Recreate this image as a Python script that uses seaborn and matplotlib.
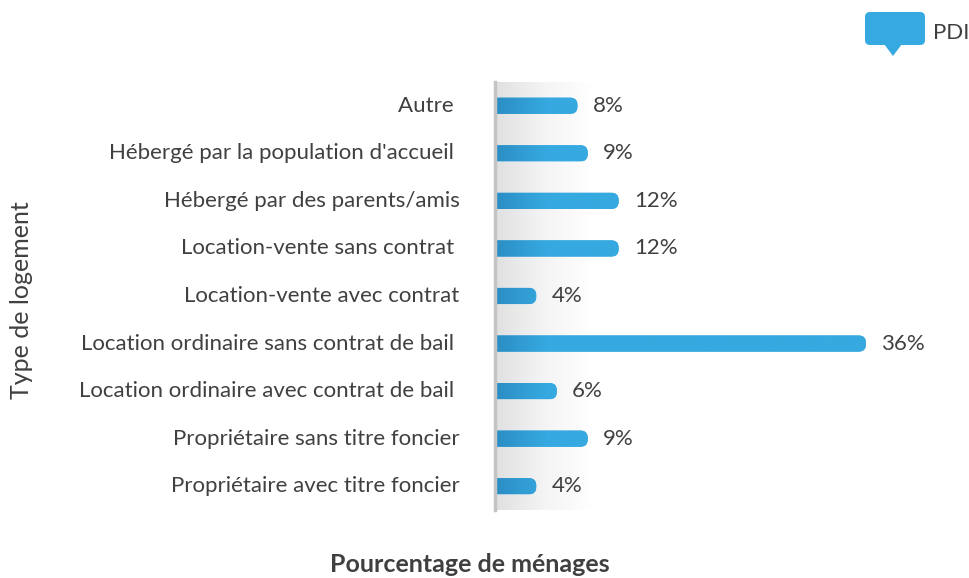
import numpy as np
import pandas as pd
import seaborn as sns
import matplotlib
matplotlib.use("Agg")
import matplotlib.pyplot as plt
from matplotlib.patches import FancyBboxPatch, Polygon
from matplotlib.colors import LinearSegmentedColormap
from matplotlib.transforms import ScaledTranslation

# ---- data ----
categories = [
    "Autre ",
    "Hébergé par la population d'accueil ",
    "Hébergé par des parents/amis",
    "Location-vente sans contrat ",
    "Location-vente avec contrat",
    "Location ordinaire sans contrat de bail ",
    "Location ordinaire avec contrat de bail ",
    "Propriétaire sans titre foncier",
    "Propriétaire avec titre foncier",
]
values = [8, 9, 12, 12, 4, 36, 6, 9, 4]
value_labels = ["8%", "9%", "12%", "12%", "4%", "36%", "6%", "9%", "4%"]
series_name = "PDI"
x_label = "Pourcentage de ménages"
y_label = "Type de logement"

# ---- style ----
BAR = "#36A9E0"
BAR_DARK = "#2B8DC4"
TXT = "#404040"

sns.set_theme(style="white")
plt.rcParams['font.family'] = ['Lato', 'DejaVu Sans']

W, H = 970, 578
fig = plt.figure(figsize=(W / 100, H / 100), dpi=100)
ax_l, ax_r, ax_t, ax_b = 495, 969, 82, 510
ax = fig.add_axes([ax_l / W, 1 - ax_b / H, (ax_r - ax_l) / W, (ax_b - ax_t) / H])

df = pd.DataFrame({"cat": categories, "val": values})
sns.barplot(data=df, x="val", y="cat", color=BAR, saturation=1, width=0.34,
            ax=ax, zorder=3)

XMAX = 46
ax.set_xlim(0, XMAX)
ax.set_ylim(len(categories) - 0.5, -0.5)

px_x = (ax_r - ax_l) / XMAX
px_y = (ax_b - ax_t) / len(categories)
aspect = px_x / px_y

# background shadow gradient near the axis
bg = LinearSegmentedColormap.from_list("bg", ["#E0E0E0", "#F4F4F4", "#FFFFFF"])
grad = np.linspace(0, 1, 256).reshape(1, -1)
ax.imshow(grad, cmap=bg, extent=[0, 9.5, len(categories) - 0.5, -0.5],
          aspect="auto", zorder=0, interpolation="bicubic")

# rounded bars with left-side gradient
barcm = LinearSegmentedColormap.from_list("bar", [BAR_DARK, BAR])
for p in list(ax.patches):
    x0, y0, w, h = p.get_x(), p.get_y(), p.get_width(), p.get_height()
    p.remove()
    rs = 0.45 * abs(h) * px_y / px_x
    fb = FancyBboxPatch((x0 - 3, y0), w + 3, h,
                        boxstyle=f"round,pad=0,rounding_size={rs}",
                        mutation_aspect=aspect, facecolor=BAR,
                        edgecolor="none", zorder=3)
    ax.add_patch(fb)
    gx = np.clip(np.linspace(0, w, 400) / 5.0, 0, 1).reshape(1, -1)
    im = ax.imshow(gx, cmap=barcm, vmin=0, vmax=1,
                   extent=[0, w, y0 + h, y0], aspect="auto", zorder=4)
    im.set_clip_path(fb)

ax.set_xlim(0, XMAX)
ax.set_ylim(len(categories) - 0.5, -0.5)

for i, (v, lbl) in enumerate(zip(values, value_labels)):
    ax.annotate(lbl, xy=(v, i), xytext=(11, 0), textcoords="offset points",
                va="center", ha="left", fontsize=16, color=TXT)

# axes styling
for s in ["top", "right", "bottom"]:
    ax.spines[s].set_visible(False)
ax.spines["left"].set_color("#C4C4C4")
ax.spines["left"].set_linewidth(2.5)
ax.spines["left"].set_zorder(5)
ax.set_xticks([])
ax.tick_params(axis="y", length=0, pad=25.5, labelsize=16, labelcolor=TXT)
shift = ScaledTranslation(0, 2 / 100, fig.dpi_scale_trans)
for t in ax.get_yticklabels():
    t.set_transform(t.get_transform() + shift)

ax.set_ylabel(y_label, fontsize=18, color=TXT)
ax.yaxis.set_label_coords((33 - ax_l) / (ax_r - ax_l), (ax_b - 300) / (ax_b - ax_t))
ax.set_xlabel(x_label, fontsize=18, color=TXT, fontweight="bold")
ax.xaxis.set_label_coords((470 - ax_l) / (ax_r - ax_l), -(553 - ax_b) / (ax_b - ax_t))

# legend: speech bubble + series name
tr = fig.dpi_scale_trans
def P(x, y):
    return (x / 100, (H - y) / 100)
bubble = FancyBboxPatch(P(865, 45), 0.60, 0.33, transform=tr,
                        boxstyle="round,pad=0,rounding_size=0.05",
                        facecolor=BAR, edgecolor="none")
fig.patches.append(bubble)
bubble.set_figure(fig)
tri = Polygon([P(884, 44), P(902, 44), P(893, 56)], closed=True,
              transform=tr, facecolor=BAR, edgecolor="none")
fig.patches.append(tri)
tri.set_figure(fig)
fig.text(933 / W, 1 - 33 / H, series_name, fontsize=16, color=TXT,
         ha="left", va="center")

fig.savefig("out.png", dpi=100)
